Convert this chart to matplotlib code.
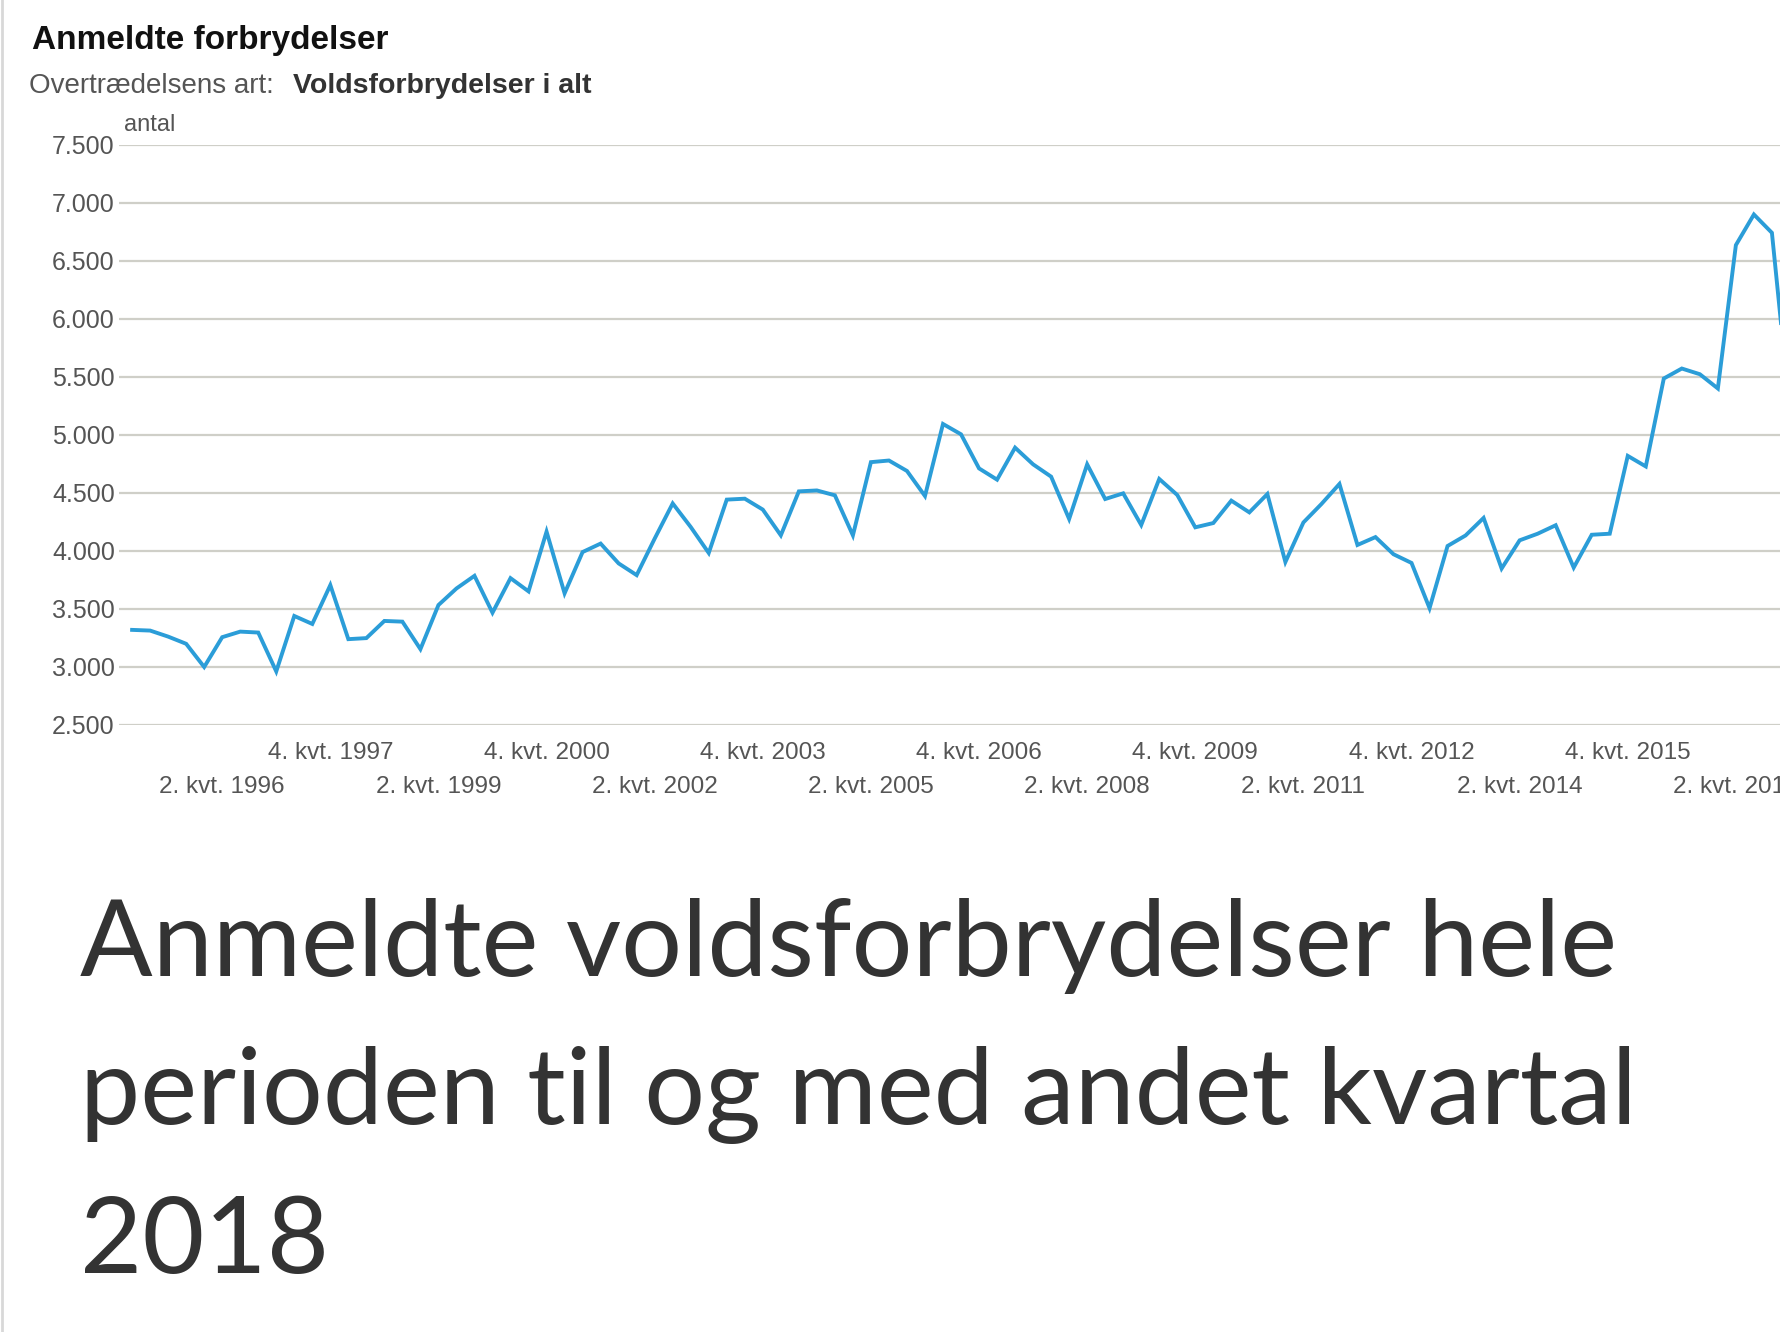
import matplotlib
matplotlib.use("Agg")
import matplotlib.pyplot as plt
from matplotlib.lines import Line2D
import numpy as np

# ---- data ----
years = list(range(1995, 2019))
quarters = [f"{q}. kvt. {y}" for y in years for q in (1, 2, 3, 4)][:93]
values = [3320, 3314, 3262, 3200, 3000, 3257, 3305, 3297, 2962, 3440,
          3371, 3706, 3240, 3249, 3397, 3391, 3154, 3534, 3677, 3786,
          3468, 3766, 3652, 4167, 3635, 3991, 4064, 3893, 3792, 4107,
          4410, 4207, 3983, 4443, 4451, 4357, 4135, 4514, 4522, 4480,
          4135, 4766, 4780, 4690, 4474, 5095, 5006, 4712, 4615, 4891,
          4747, 4641, 4276, 4747, 4448, 4497, 4224, 4621, 4483, 4204,
          4241, 4434, 4333, 4491, 3905, 4246, 4405, 4578, 4052, 4120,
          3972, 3897, 3507, 4043, 4134, 4285, 3849, 4092, 4149, 4222,
          3857, 4140, 4149, 4820, 4729, 5487, 5573, 5524, 5401, 6637,
          6901, 6743, 5200]
y_ticks = [2500, 3000, 3500, 4000, 4500, 5000, 5500, 6000, 6500, 7000, 7500]
title = "Anmeldte forbrydelser"
subtitle_label = "Overtrædelsens art:"
subtitle_value = "Voldsforbrydelser i alt"
unit = "antal"
caption = ["Anmeldte voldsforbrydelser hele",
           "perioden til og med andet kvartal",
           "2018"]

W, H = 1780, 1332
fig = plt.figure(figsize=(W / 100, H / 100), dpi=100)
fig.patch.set_facecolor("white")

CH = ["Liberation Sans", "DejaVu Sans"]
GRAY = "#555555"

# axes geometry (pixels)
ax_l, ax_r, ax_t, ax_b = 119, 1780, 145, 725
ax = fig.add_axes([ax_l / W, 1 - ax_b / H, (ax_r - ax_l) / W, (ax_b - ax_t) / H])
x = np.arange(len(values))
x0, dx = 132.1, 18.02
ax.set_xlim((ax_l - x0) / dx, (ax_r - x0) / dx)
ax.set_ylim(2500, 7500)

for s in ax.spines.values():
    s.set_visible(False)
ax.set_yticks(y_ticks)
ax.set_yticklabels([f"{v:,}".replace(",", ".") for v in y_ticks],
                   fontfamily=CH, fontsize=18, color=GRAY)
ax.tick_params(axis="y", length=0, pad=3)
ax.yaxis.grid(True, color="#cfcfc8", linewidth=1.6)
ax.set_axisbelow(True)

ax.plot(x, values, color="#2b9dd8", linewidth=2.8, solid_joinstyle="miter",
        clip_on=True, zorder=3)

row1 = list(range(11, len(quarters), 12))
row2 = list(range(5, len(quarters), 12))
ax.set_xticks(row1)
ax.set_xticklabels([quarters[i] for i in row1], fontfamily=CH, fontsize=17.5,
                   color=GRAY)
ax.set_xticks(row2, minor=True)
ax.set_xticklabels([quarters[i] for i in row2], minor=True, fontfamily=CH,
                   fontsize=17.5, color=GRAY)
ax.tick_params(axis="x", which="major", length=0, pad=12)
ax.tick_params(axis="x", which="minor", length=0, pad=37)

# titles
fig.text(32 / W, 1 - 40 / H, title, fontfamily=CH, fontsize=24,
         fontweight="bold", color="#111111", va="center", ha="left")
fig.text(29 / W, 1 - 86 / H, subtitle_label, fontfamily=CH, fontsize=20,
         color=GRAY, va="center", ha="left")
fig.text(293 / W, 1 - 86 / H, subtitle_value, fontfamily=CH, fontsize=20.5,
         fontweight="bold", color="#333333", va="center", ha="left")
fig.text(124 / W, 1 - 125 / H, unit, fontfamily=CH, fontsize=17,
         color=GRAY, va="center", ha="left")

# caption
base = [976, 1124, 1273]
for line, b in zip(caption, base):
    fig.text(80 / W, 1 - b / H, line, fontfamily=["Lato", "DejaVu Sans"],
             fontsize=77.3, color="#333333", va="baseline", ha="left")

# left border
fig.add_artist(Line2D([1.5 / W, 1.5 / W], [0, 1], transform=fig.transFigure,
                      color="#d8d8d8", linewidth=2))

fig.savefig("out.png", dpi=100, facecolor="white")
